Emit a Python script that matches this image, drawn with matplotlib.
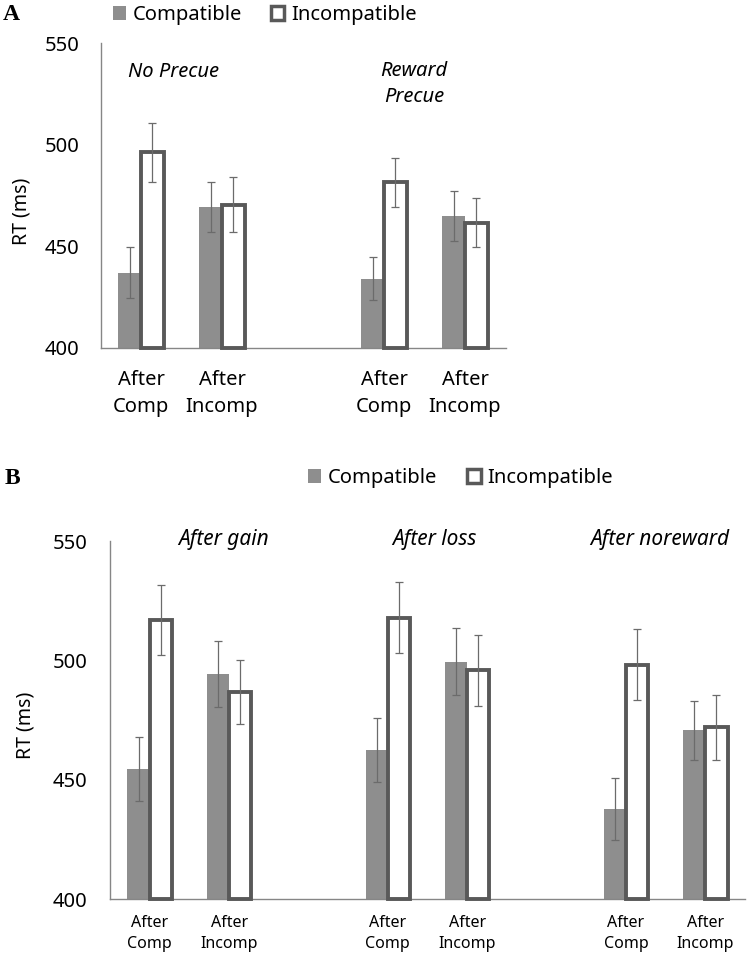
import matplotlib
matplotlib.use('Agg')
from matplotlib import pyplot as plt
from matplotlib.patches import Patch

plt.rcParams['font.family'] = ['Noto Sans', 'DejaVu Sans']

series_names = ['Compatible', 'Incompatible']
cond_labels = ['After\nComp', 'After\nIncomp']

# panel A (RT in ms, error = +/-)
a_groups = ['No Precue', 'Reward\nPrecue']
a_comp = [437, 469.5, 434, 465]
a_comp_err = [12.6, 12.3, 10.8, 12.3]
a_incomp = [496.3, 470.5, 481.4, 461.5]
a_incomp_err = [14.5, 13.4, 12.0, 12.1]

# panel B
b_groups = ['After gain', 'After loss', 'After noreward']
b_comp = [454.5, 494.3, 462.6, 499.6, 437.9, 470.9]
b_comp_err = [13.4, 13.8, 13.3, 14.2, 13.0, 12.4]
b_incomp = [517.0, 486.9, 518.0, 495.9, 498.3, 472.0]
b_incomp_err = [14.6, 13.5, 14.9, 14.7, 14.9, 13.8]

COMP = '#8e8e8e'
EDGE = '#595959'
ERR = '#6b6b6b'
AXIS = '#868686'
W = 0.28
BASE = 400


def slots(n_groups):
    # two categories per group, one empty category between groups
    return [3 * g + k for g in range(n_groups) for k in range(2)]


def panel(ax, comp, comp_err, incomp, incomp_err, n_groups, xsize, ysize, xpad, ypad):
    x = slots(n_groups)
    xc = [p - W / 2 for p in x]
    xi = [p + W / 2 for p in x]
    ax.bar(xc, [v - BASE for v in comp], W, bottom=BASE, color=COMP,
           zorder=2, clip_on=False)
    ax.bar(xi, [v - BASE for v in incomp], W, bottom=BASE, color='white',
           edgecolor=EDGE, linewidth=2.8, zorder=3, clip_on=False)
    ax.errorbar(xc, comp, yerr=comp_err, fmt='none', ecolor=ERR,
                elinewidth=0.9, capsize=2.6, capthick=0.9, zorder=4)
    ax.errorbar(xi, incomp, yerr=incomp_err, fmt='none', ecolor=ERR,
                elinewidth=0.9, capsize=2.6, capthick=0.9, zorder=4)
    ax.set_xlim(-0.5, 3 * n_groups - 1.5)
    ax.set_ylim(400, 550)
    ax.set_yticks([400, 450, 500, 550])
    ax.set_xticks(x)
    ax.set_xticklabels(cond_labels * n_groups, fontsize=xsize, linespacing=1.45)
    ax.tick_params(axis='y', length=0, pad=ypad, labelsize=ysize)
    ax.tick_params(axis='x', length=0, pad=xpad)
    for s in ['top', 'right']:
        ax.spines[s].set_visible(False)
    for s in ['left', 'bottom']:
        ax.spines[s].set_color(AXIS)
        ax.spines[s].set_linewidth(1.0)


fig = plt.figure(figsize=(7.5, 9.59), dpi=100)

handles = [Patch(facecolor=COMP, edgecolor='none'),
           Patch(facecolor='white', edgecolor=EDGE, linewidth=2.5)]

# ---- panel A
axA = fig.add_axes([0.134, 0.6376, 0.54, 0.3172])
panel(axA, a_comp, a_comp_err, a_incomp, a_incomp_err, 2, 14.5, 14.5, 16, 15)
axA.text(0.4, 536, a_groups[0], style='italic', fontsize=14.5, ha='center', va='center')
axA.text(3.37, 530, a_groups[1], style='italic', fontsize=14.5, ha='center',
         va='center', linespacing=1.35)
fig.text(22 / 750, 1 - 211 / 959, 'RT (ms)', rotation=90, fontsize=14,
         ha='center', va='center')
fig.text(0.004, 1 - 15 / 959, 'A', family='Liberation Serif', weight='bold',
         fontsize=17, va='center')
fig.legend(handles, series_names, loc='center', bbox_to_anchor=(0.353, 1 - 15 / 959),
           ncol=2, frameon=False, fontsize=14.5, handlelength=0.65, handleheight=0.65,
           handletextpad=0.35, columnspacing=1.4, borderpad=0)

# ---- panel B
axB = fig.add_axes([0.1467, 0.0623, 0.8467, 0.3732])
panel(axB, b_comp, b_comp_err, b_incomp, b_incomp_err, 3, 11.5, 14.5, 11, 16)
for gx, name in zip([0.93, 3.59, 6.43], b_groups):
    axB.text(gx, 550.6, name, style='italic', fontsize=15, ha='center', va='center')
fig.text(25 / 750, 1 - 725 / 959, 'RT (ms)', rotation=90, fontsize=14,
         ha='center', va='center')
fig.text(0.006, 1 - 478 / 959, 'B', family='Liberation Serif', weight='bold',
         fontsize=17, va='center')
fig.legend(handles, series_names, loc='center', bbox_to_anchor=(0.614, 1 - 478 / 959),
           ncol=2, frameon=False, fontsize=14.5, handlelength=0.65, handleheight=0.65,
           handletextpad=0.35, columnspacing=1.5, borderpad=0)

fig.savefig('out.png', dpi=100)
